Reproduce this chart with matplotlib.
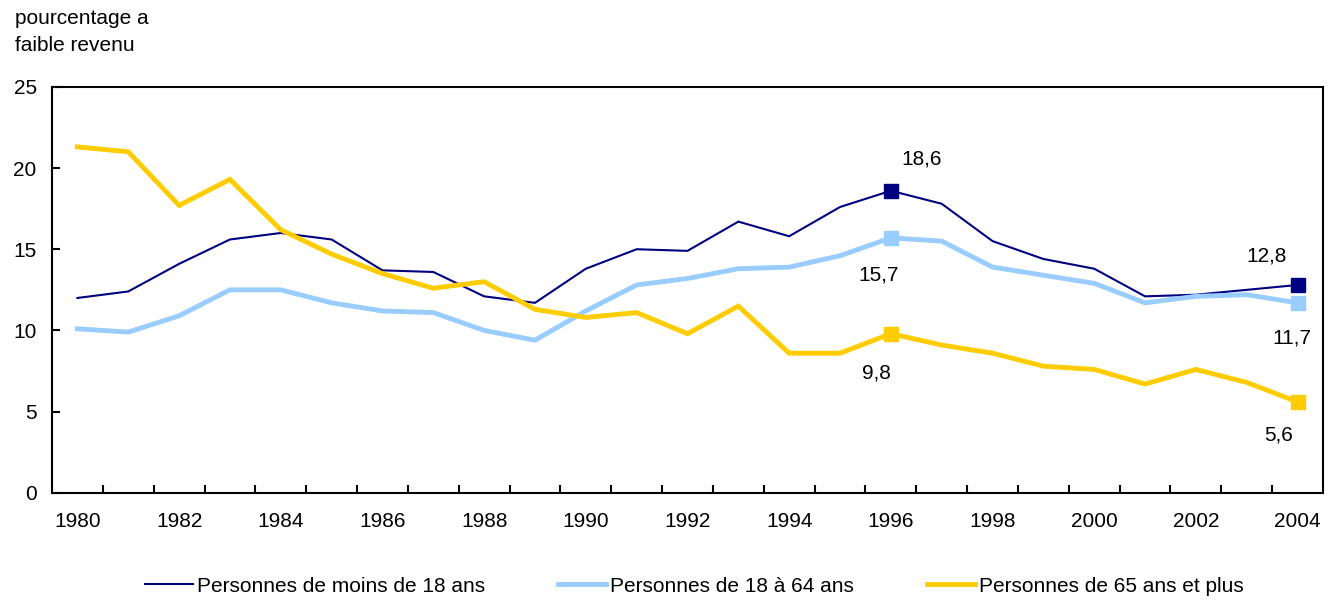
import matplotlib.pyplot as plt
import numpy as np

plt.rcParams.update({
    'font.family': ['Liberation Sans', 'DejaVu Sans'],
    'font.size': 15,
})

# données
years = np.arange(1980, 2005)
moins_18 = [12.0, 12.4, 14.1, 15.6, 16.0, 15.6, 13.7, 13.6, 12.1, 11.7, 13.8, 15.0, 14.9,
            16.7, 15.8, 17.6, 18.6, 17.8, 15.5, 14.4, 13.8, 12.1, 12.2, 12.5, 12.8]
de_18_64 = [10.1, 9.9, 10.9, 12.5, 12.5, 11.7, 11.2, 11.1, 10.0, 9.4, 11.2, 12.8, 13.2,
            13.8, 13.9, 14.6, 15.7, 15.5, 13.9, 13.4, 12.9, 11.7, 12.1, 12.2, 11.7]
plus_65 = [21.3, 21.0, 17.7, 19.3, 16.2, 14.7, 13.5, 12.6, 13.0, 11.3, 10.8, 11.1, 9.8,
           11.5, 8.6, 8.6, 9.8, 9.1, 8.6, 7.8, 7.6, 6.7, 7.6, 6.8, 5.6]
labels = ['Personnes de moins de 18 ans', 'Personnes de 18 à 64 ans',
          'Personnes de 65 ans et plus']
highlight_years = [1996, 2004]

series = [
    (moins_18, '#000080', 1.5),
    (de_18_64, '#99CCFF', 3.5),
    (plus_65, '#FFCC00', 3.5),
]

fig = plt.figure(figsize=(13.33, 6.07), dpi=100)
ax = fig.add_axes([0.039, 0.188, 0.9535, 0.669])

for (vals, col, lw), lab in zip(series, labels):
    ax.plot(years, vals, color=col, linewidth=lw, label=lab, solid_joinstyle='miter')
    idx = [list(years).index(y) for y in highlight_years]
    ax.plot(years[idx], np.array(vals)[idx], 's', color=col, markersize=10, zorder=5)

def fmt(v):
    return f'{v:.1f}'.replace('.', ',')

# étiquettes de valeurs
i96 = list(years).index(1996)
ax.annotate(fmt(moins_18[i96]), (1996, moins_18[i96]), xytext=(31, 32),
            textcoords='offset pixels', ha='center', va='center')
ax.annotate(fmt(de_18_64[i96]), (1996, de_18_64[i96]), xytext=(-12, -37),
            textcoords='offset pixels', ha='center', va='center')
ax.annotate(fmt(plus_65[i96]), (1996, plus_65[i96]), xytext=(-14, -39),
            textcoords='offset pixels', ha='center', va='center')
ax.annotate(fmt(moins_18[-1]), (2004, moins_18[-1]), xytext=(-31, 29),
            textcoords='offset pixels', ha='center', va='center')
ax.annotate(fmt(de_18_64[-1]), (2004, de_18_64[-1]), xytext=(-6, -35),
            textcoords='offset pixels', ha='center', va='center')
ax.annotate(fmt(plus_65[-1]), (2004, plus_65[-1]), xytext=(-19, -33),
            textcoords='offset pixels', ha='center', va='center')

ax.set_xlim(1979.5, 2004.5)
ax.set_ylim(0, 25)
ax.set_yticks(range(0, 26, 5))
ax.set_xticks(years[::2])
ax.set_xticks(years[:-1] + 0.5, minor=True)
ax.tick_params(axis='x', which='major', length=0, pad=14)
ax.tick_params(axis='x', which='minor', direction='in', length=6, width=1.5)
ax.tick_params(axis='y', direction='in', length=6, width=1.5, pad=11)
for s in ax.spines.values():
    s.set_linewidth(1.5)

fig.text(0.011, 0.985, 'pourcentage a\nfaible revenu', ha='left', va='top',
         fontsize=15, linespacing=1.5)

fig.legend(loc='lower center', bbox_to_anchor=(0.521, -0.012), ncol=3, frameon=False,
           handlelength=2.3, handletextpad=0.2, columnspacing=3.5)

plt.savefig('out.png', dpi=100)
